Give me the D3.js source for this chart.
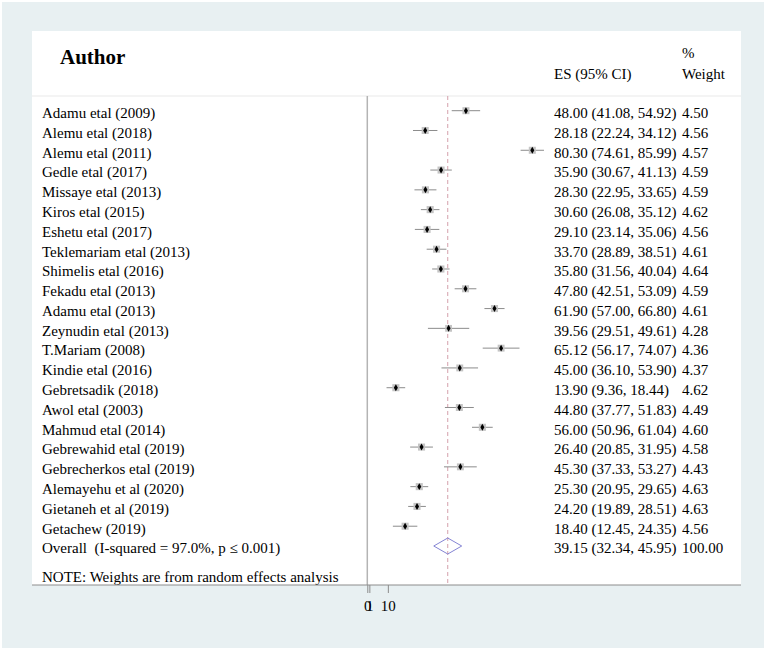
<!DOCTYPE html>
<html>
<head>
<meta charset="utf-8">
<script src="https://cdn.jsdelivr.net/npm/d3@7"></script>
<style>
  body { margin: 0; background: #fff; }
  svg { display: block; }
</style>
</head>
<body>
<div id="chart"></div>
<script>
// study data
const authors = [
  "Adamu etal (2009)", "Alemu etal (2018)", "Alemu etal (2011)", "Gedle etal (2017)",
  "Missaye etal (2013)", "Kiros etal (2015)", "Eshetu etal (2017)", "Teklemariam etal (2013)",
  "Shimelis etal (2016)", "Fekadu etal (2013)", "Adamu etal (2013)", "Zeynudin etal (2013)",
  "T.Mariam (2008)", "Kindie etal (2016)", "Gebretsadik (2018)", "Awol etal (2003)",
  "Mahmud etal (2014)", "Gebrewahid etal (2019)", "Gebrecherkos etal (2019)", "Alemayehu et al (2020)",
  "Gietaneh et al (2019)", "Getachew (2019)"
];
const es = [48.00, 28.18, 80.30, 35.90, 28.30, 30.60, 29.10, 33.70, 35.80, 47.80, 61.90, 39.56,
  65.12, 45.00, 13.90, 44.80, 56.00, 26.40, 45.30, 25.30, 24.20, 18.40];
const lower = [41.08, 22.24, 74.61, 30.67, 22.95, 26.08, 23.14, 28.89, 31.56, 42.51, 57.00, 29.51,
  56.17, 36.10, 9.36, 37.77, 50.96, 20.85, 37.33, 20.95, 19.89, 12.45];
const upper = [54.92, 34.12, 85.99, 41.13, 33.65, 35.12, 35.06, 38.51, 40.04, 53.09, 66.80, 49.61,
  74.07, 53.90, 18.44, 51.83, 61.04, 31.95, 53.27, 29.65, 28.51, 24.35];
const weights = [4.50, 4.56, 4.57, 4.59, 4.59, 4.62, 4.56, 4.61, 4.64, 4.59, 4.61, 4.28,
  4.36, 4.37, 4.62, 4.49, 4.60, 4.58, 4.43, 4.63, 4.63, 4.56];
const overall = { label: "Overall  (I-squared = 97.0%, p \u2264 0.001)", es: 39.15, lo: 32.34, hi: 45.95, weight: 100.00 };
const xTicks = [0, 1, 10];

const W = 766, H = 650;
const FONT = "'Liberation Serif', 'Times New Roman', serif";
const panel = { left: 32, right: 741, top: 31, bottom: 585, header: 96 };

const svg = d3.select("#chart").append("svg")
  .attr("width", W)
  .attr("height", H);

// BACKGROUNDS
svg.append("rect")
  .attr("x", 2).attr("y", 2)
  .attr("width", W - 4).attr("height", H - 4)
  .attr("fill", "#e8f0f2");

svg.append("rect")
  .attr("x", panel.left).attr("y", panel.top)
  .attr("width", panel.right - panel.left).attr("height", panel.bottom - panel.top)
  .attr("fill", "#fff");

svg.append("line")
  .attr("x1", panel.left).attr("x2", panel.right)
  .attr("y1", panel.header).attr("y2", panel.header)
  .attr("stroke", "#f0f0f0").attr("stroke-width", 1.5);

// SCALES
const x = d3.scaleLinear().domain([0, 80.3]).range([367.3, 532.3]);
const y = d3.scalePoint().domain(d3.range(authors.length + 1)).range([110.7, 546]);
const fmt = d3.format(".2f");

// HEADER
svg.append("text")
  .attr("x", 60).attr("y", 64)
  .text("Author")
  .style("font-family", FONT)
  .style("font-weight", "bold")
  .style("font-size", "21px");

svg.append("text")
  .attr("x", 554).attr("y", 78.5)
  .text("ES (95% CI)")
  .style("font-family", FONT).style("font-size", "15px");

svg.append("text")
  .attr("x", 682).attr("y", 58)
  .text("%")
  .style("font-family", FONT).style("font-size", "15px");

svg.append("text")
  .attr("x", 682).attr("y", 78.5)
  .text("Weight")
  .style("font-family", FONT).style("font-size", "15px");

// NULL LINE + OVERALL DASHED LINE
svg.append("line")
  .attr("x1", x(0)).attr("x2", x(0))
  .attr("y1", panel.header).attr("y2", panel.bottom)
  .attr("stroke", "#b4b4b4").attr("stroke-width", 1.5);

svg.append("line")
  .attr("x1", x(overall.es)).attr("x2", x(overall.es))
  .attr("y1", panel.header).attr("y2", panel.bottom)
  .attr("stroke", "#d4a0ac").attr("stroke-width", 1)
  .attr("stroke-dasharray", "4,3");

// STUDY ROWS
const rows = svg.append("g").selectAll("g")
  .data(authors.map((a, i) => ({ a, i, es: es[i], lo: lower[i], hi: upper[i], w: weights[i] })))
  .join("g");

rows.append("line")
  .attr("x1", d => x(d.lo)).attr("x2", d => x(d.hi))
  .attr("y1", d => y(d.i)).attr("y2", d => y(d.i))
  .attr("stroke", "#8c8c8c").attr("stroke-width", 1);

rows.append("rect")
  .attr("x", d => x(d.es) - 1.65 * Math.sqrt(d.w))
  .attr("y", d => y(d.i) - 1.65 * Math.sqrt(d.w))
  .attr("width", d => 3.3 * Math.sqrt(d.w))
  .attr("height", d => 3.3 * Math.sqrt(d.w))
  .attr("fill", "#c4c4c4");

rows.append("path")
  .attr("transform", d => `translate(${x(d.es)},${y(d.i)})`)
  .attr("d", d3.symbol(d3.symbolDiamond, 14))
  .attr("fill", "#000");

rows.append("text")
  .attr("x", 42).attr("y", d => y(d.i) + 7.3)
  .text(d => d.a)
  .style("font-family", FONT).style("font-size", "15px");

rows.append("text")
  .attr("x", 554).attr("y", d => y(d.i) + 7.3)
  .text(d => `${fmt(d.es)} (${fmt(d.lo)}, ${fmt(d.hi)})`)
  .style("font-family", FONT).style("font-size", "15px");

rows.append("text")
  .attr("x", 682).attr("y", d => y(d.i) + 7.3)
  .text(d => fmt(d.w))
  .style("font-family", FONT).style("font-size", "15px");

// OVERALL DIAMOND
const oy = y(authors.length);
svg.append("path")
  .attr("d", d3.line()([
    [x(overall.lo), oy], [x(overall.es), oy - 8],
    [x(overall.hi), oy], [x(overall.es), oy + 8]
  ]) + "Z")
  .attr("fill", "none")
  .attr("stroke", "#8484d4").attr("stroke-width", 1);

svg.append("text")
  .attr("x", 42).attr("y", oy + 7.3)
  .text(overall.label)
  .style("white-space", "pre")
  .style("font-family", FONT).style("font-size", "15px");

svg.append("text")
  .attr("x", 554).attr("y", oy + 7.3)
  .text(`${fmt(overall.es)} (${fmt(overall.lo)}, ${fmt(overall.hi)})`)
  .style("font-family", FONT).style("font-size", "15px");

svg.append("text")
  .attr("x", 682).attr("y", oy + 7.3)
  .text(fmt(overall.weight))
  .style("font-family", FONT).style("font-size", "15px");

svg.append("text")
  .attr("x", 42).attr("y", 582)
  .text("NOTE: Weights are from random effects analysis")
  .style("font-family", FONT).style("font-size", "15px");

// BOTTOM LINE + AXIS
svg.append("line")
  .attr("x1", panel.left).attr("x2", panel.right)
  .attr("y1", panel.bottom).attr("y2", panel.bottom)
  .attr("stroke", "#8c8c8c").attr("stroke-width", 1);

const axis = svg.append("g")
  .attr("transform", `translate(0,${panel.bottom})`)
  .call(d3.axisBottom(x).tickValues(xTicks).tickFormat(d3.format("d")).tickSize(8).tickPadding(7));

axis.select(".domain").remove();
axis.selectAll(".tick line").attr("stroke", "#8c8c8c");
axis.selectAll(".tick text")
  .style("font-family", FONT)
  .style("font-size", "15px")
  .attr("fill", "#000");
</script>
</body>
</html>
